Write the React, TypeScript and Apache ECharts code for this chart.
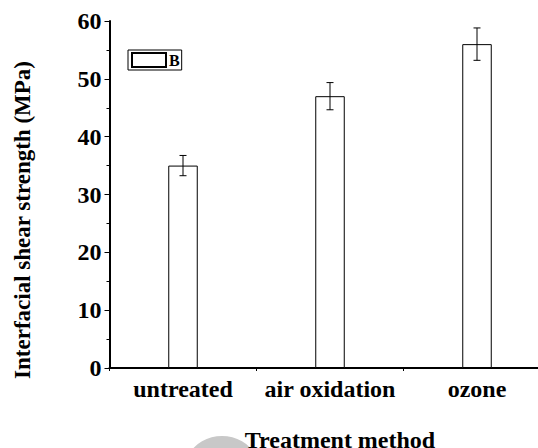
import React, { useEffect, useRef } from "react";
import * as echarts from "echarts";

const categories = ["untreated", "air oxidation", "ozone"];
const values = [35, 47, 56];
const errors = [1.75, 2.35, 2.8];
const seriesName = "B";
const yTicks = { min: 0, max: 60, interval: 10 };
const xAxisTitle = "Treatment method";
const yAxisTitle = "Interfacial shear strength (MPa)";

const FONT = "'Liberation Serif', 'Times New Roman', serif";

export default function App() {
  const ref = useRef<HTMLDivElement>(null);
  useEffect(() => {
    if (!ref.current) return;
    const chart = echarts.init(ref.current, undefined, { renderer: "svg" });
    const errData = categories.map((_, i) => [i, values[i] - errors[i], values[i] + errors[i]]);
    chart.setOption({
      animation: false,
      backgroundColor: "#ffffff",
      textStyle: { fontFamily: FONT },
      grid: {
        left: 109.5,
        top: 21,
        width: 441,
        height: 347,
        containLabel: false,
        outerBoundsMode: "none",
      },
      legend: {
        data: [seriesName],
        left: 128,
        top: 50,
        orient: "vertical",
        padding: [2, 2, 2, 3],
        itemWidth: 34,
        itemHeight: 14,
        itemGap: 0,
        borderColor: "#000",
        borderWidth: 1,
        icon: "rect",
        textStyle: { fontFamily: FONT, fontWeight: "bold", fontSize: 16, color: "#000", padding: [0, 0, 0, -2] },
      },
      xAxis: [
        {
          type: "category",
          data: categories,
          boundaryGap: true,
          axisLine: { lineStyle: { color: "#000", width: 2 } },
          axisTick: { alignWithLabel: true, length: 6, lineStyle: { color: "#000", width: 1 } },
          axisLabel: {
            fontFamily: FONT,
            fontWeight: "bold",
            fontSize: 24,
            color: "#000",
            margin: 9,
            interval: 0,
            hideOverlap: false,
          },
          splitLine: { show: false },
        },
        {
          type: "category",
          data: categories,
          position: "bottom",
          boundaryGap: true,
          axisLine: { show: false },
          axisTick: { show: true, interval: 0, length: 3, lineStyle: { color: "#000", width: 1 } },
          axisLabel: { show: false },
          splitLine: { show: false },
        },
      ],
      yAxis: {
        type: "value",
        min: yTicks.min,
        max: yTicks.max,
        interval: yTicks.interval,
        axisLine: { show: true, lineStyle: { color: "#000", width: 2 } },
        axisTick: { show: true, length: 5, lineStyle: { color: "#000", width: 1 } },
        minorTick: { show: true, splitNumber: 2, length: 3, lineStyle: { color: "#000", width: 1 } },
        axisLabel: { fontFamily: FONT, fontWeight: "bold", fontSize: 24, color: "#000", margin: 8 },
        splitLine: { show: false },
      },
      series: [
        {
          name: seriesName,
          type: "bar",
          xAxisIndex: 0,
          data: values,
          barWidth: 29.5,
          itemStyle: { color: "#ffffff", borderColor: "#000", borderWidth: 1 },
        },
        {
          name: "err",
          type: "custom",
          xAxisIndex: 0,
          data: errData,
          encode: { x: 0, y: [1, 2] },
          z: 5,
          renderItem: (_params: any, api: any) => {
            const x = api.value(0);
            const lo = api.value(1);
            const hi = api.value(2);
            const top = api.coord([x, hi]);
            const bot = api.coord([x, lo]);
            const hw = 3.5;
            const st = { stroke: "#000", lineWidth: 1 };
            return {
              type: "group",
              children: [
                { type: "line", shape: { x1: top[0], y1: top[1], x2: bot[0], y2: bot[1] }, style: st },
                { type: "line", shape: { x1: top[0] - hw, y1: top[1], x2: top[0] + hw, y2: top[1] }, style: st },
                { type: "line", shape: { x1: bot[0] - hw, y1: bot[1], x2: bot[0] + hw, y2: bot[1] }, style: st },
              ],
            };
          },
        },
      ],
      graphic: [
        {
          type: "circle",
          shape: { cx: 222, cy: 476, r: 40 },
          style: { fill: "#c8c8c8" },
          z: 0,
        },
        {
          type: "text",
          x: 340,
          y: 452,
          z: 10,
          style: {
            text: xAxisTitle,
            fontFamily: FONT,
            fontWeight: "bold",
            fontSize: 24,
            fill: "#000",
            textAlign: "center",
            textVerticalAlign: "bottom",
          },
        },
        {
          type: "text",
          x: 22,
          y: 220,
          rotation: Math.PI / 2,
          z: 10,
          style: {
            text: yAxisTitle,
            fontFamily: FONT,
            fontWeight: "bold",
            fontSize: 23,
            fill: "#000",
            textAlign: "center",
            textVerticalAlign: "middle",
          },
        },
      ],
    });
    return () => chart.dispose();
  }, []);
  return (
    <div
      ref={ref}
      style={{ position: "fixed", left: 0, top: 0, width: 538, height: 448, background: "#fff" }}
    />
  );
}
